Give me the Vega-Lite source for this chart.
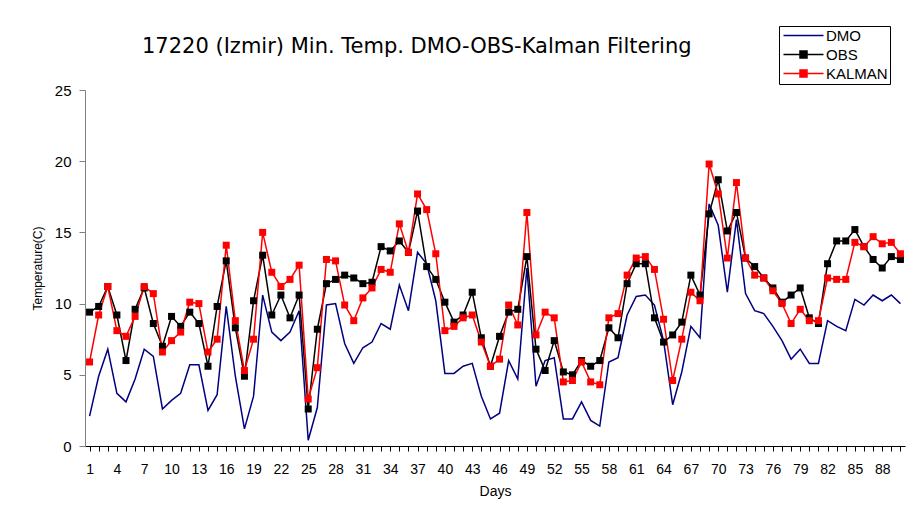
{
  "$schema": "https://vega.github.io/schema/vega-lite/v6.json",
  "width": 820,
  "height": 356,
  "autosize": {"type": "none"},
  "padding": {"left": 85, "top": 90, "right": 4, "bottom": 66},
  "background": "white",
  "title": {
    "text": "17220 (Izmir) Min. Temp. DMO-OBS-Kalman Filtering",
    "anchor": "start",
    "frame": "group",
    "dx": 57,
    "offset": -31,
    "fontSize": 21,
    "fontWeight": "normal",
    "font": "DejaVu Sans",
    "color": "black"
  },
  "config": {
    "view": {"stroke": null},
    "font": "Liberation Sans",
    "axis": {"grid": false, "labelFont": "Liberation Sans", "titleFont": "Liberation Sans", "labelColor": "black", "titleColor": "black", "titleFontWeight": "normal"}
  },
  "data": {
    "values": [
      {"day": 1, "DMO": 2.1, "OBS": 9.4, "KALMAN": 5.9},
      {"day": 2, "DMO": 4.9, "OBS": 9.8, "KALMAN": 9.2},
      {"day": 3, "DMO": 6.8, "OBS": 11.2, "KALMAN": 11.2},
      {"day": 4, "DMO": 3.7, "OBS": 9.2, "KALMAN": 8.1},
      {"day": 5, "DMO": 3.1, "OBS": 6.0, "KALMAN": 7.7},
      {"day": 6, "DMO": 4.7, "OBS": 9.6, "KALMAN": 9.1},
      {"day": 7, "DMO": 6.8, "OBS": 11.1, "KALMAN": 11.2},
      {"day": 8, "DMO": 6.3, "OBS": 8.6, "KALMAN": 10.7},
      {"day": 9, "DMO": 2.6, "OBS": 7.0, "KALMAN": 6.6},
      {"day": 10, "DMO": 3.2, "OBS": 9.1, "KALMAN": 7.4},
      {"day": 11, "DMO": 3.7, "OBS": 8.4, "KALMAN": 8.0},
      {"day": 12, "DMO": 5.7, "OBS": 9.4, "KALMAN": 10.1},
      {"day": 13, "DMO": 5.7, "OBS": 8.6, "KALMAN": 10.0},
      {"day": 14, "DMO": 2.5, "OBS": 5.6, "KALMAN": 6.6},
      {"day": 15, "DMO": 3.6, "OBS": 9.8, "KALMAN": 7.5},
      {"day": 16, "DMO": 9.8, "OBS": 13.0, "KALMAN": 14.1},
      {"day": 17, "DMO": 4.9, "OBS": 8.3, "KALMAN": 8.8},
      {"day": 18, "DMO": 1.2, "OBS": 4.9, "KALMAN": 5.3},
      {"day": 19, "DMO": 3.5, "OBS": 10.2, "KALMAN": 7.5},
      {"day": 20, "DMO": 10.6, "OBS": 13.4, "KALMAN": 15.0},
      {"day": 21, "DMO": 8.0, "OBS": 9.2, "KALMAN": 12.2},
      {"day": 22, "DMO": 7.4, "OBS": 10.6, "KALMAN": 11.2},
      {"day": 23, "DMO": 8.0, "OBS": 9.0, "KALMAN": 11.7},
      {"day": 24, "DMO": 9.5, "OBS": 10.6, "KALMAN": 12.7},
      {"day": 25, "DMO": 0.4, "OBS": 2.6, "KALMAN": 3.3},
      {"day": 26, "DMO": 2.7, "OBS": 8.2, "KALMAN": 5.5},
      {"day": 27, "DMO": 9.9, "OBS": 11.4, "KALMAN": 13.1},
      {"day": 28, "DMO": 10.0, "OBS": 11.7, "KALMAN": 13.0},
      {"day": 29, "DMO": 7.2, "OBS": 12.0, "KALMAN": 9.9},
      {"day": 30, "DMO": 5.8, "OBS": 11.8, "KALMAN": 8.8},
      {"day": 31, "DMO": 6.9, "OBS": 11.4, "KALMAN": 10.4},
      {"day": 32, "DMO": 7.3, "OBS": 11.5, "KALMAN": 11.1},
      {"day": 33, "DMO": 8.6, "OBS": 14.0, "KALMAN": 12.4},
      {"day": 34, "DMO": 8.2, "OBS": 13.7, "KALMAN": 12.2},
      {"day": 35, "DMO": 11.3, "OBS": 14.4, "KALMAN": 15.6},
      {"day": 36, "DMO": 9.5, "OBS": 13.6, "KALMAN": 13.6},
      {"day": 37, "DMO": 13.6, "OBS": 16.5, "KALMAN": 17.7},
      {"day": 38, "DMO": 12.8, "OBS": 12.6, "KALMAN": 16.6},
      {"day": 39, "DMO": 10.2, "OBS": 11.7, "KALMAN": 13.5},
      {"day": 40, "DMO": 5.1, "OBS": 10.1, "KALMAN": 8.1},
      {"day": 41, "DMO": 5.1, "OBS": 8.7, "KALMAN": 8.4},
      {"day": 42, "DMO": 5.6, "OBS": 9.2, "KALMAN": 9.0},
      {"day": 43, "DMO": 5.8, "OBS": 10.8, "KALMAN": 9.2},
      {"day": 44, "DMO": 3.5, "OBS": 7.6, "KALMAN": 7.3},
      {"day": 45, "DMO": 1.9, "OBS": 5.6, "KALMAN": 5.6},
      {"day": 46, "DMO": 2.3, "OBS": 7.7, "KALMAN": 6.1},
      {"day": 47, "DMO": 6.0, "OBS": 9.4, "KALMAN": 9.9},
      {"day": 48, "DMO": 4.7, "OBS": 9.6, "KALMAN": 8.5},
      {"day": 49, "DMO": 12.5, "OBS": 13.3, "KALMAN": 16.4},
      {"day": 50, "DMO": 4.2, "OBS": 6.8, "KALMAN": 7.8},
      {"day": 51, "DMO": 6.0, "OBS": 5.3, "KALMAN": 9.4},
      {"day": 52, "DMO": 6.2, "OBS": 7.4, "KALMAN": 9.0},
      {"day": 53, "DMO": 1.9, "OBS": 5.2, "KALMAN": 4.5},
      {"day": 54, "DMO": 1.9, "OBS": 5.0, "KALMAN": 4.6},
      {"day": 55, "DMO": 3.1, "OBS": 6.0, "KALMAN": 5.9},
      {"day": 56, "DMO": 1.8, "OBS": 5.6, "KALMAN": 4.5},
      {"day": 57, "DMO": 1.4, "OBS": 6.0, "KALMAN": 4.3},
      {"day": 58, "DMO": 5.9, "OBS": 8.3, "KALMAN": 9.0},
      {"day": 59, "DMO": 6.2, "OBS": 7.6, "KALMAN": 9.3},
      {"day": 60, "DMO": 9.2, "OBS": 11.4, "KALMAN": 12.0},
      {"day": 61, "DMO": 10.5, "OBS": 12.8, "KALMAN": 13.2},
      {"day": 62, "DMO": 10.6, "OBS": 12.8, "KALMAN": 13.3},
      {"day": 63, "DMO": 9.9, "OBS": 9.0, "KALMAN": 12.4},
      {"day": 64, "DMO": 7.4, "OBS": 7.3, "KALMAN": 8.9},
      {"day": 65, "DMO": 2.9, "OBS": 7.8, "KALMAN": 4.6},
      {"day": 66, "DMO": 5.2, "OBS": 8.7, "KALMAN": 7.5},
      {"day": 67, "DMO": 8.4, "OBS": 12.0, "KALMAN": 10.8},
      {"day": 68, "DMO": 7.6, "OBS": 10.6, "KALMAN": 10.2},
      {"day": 69, "DMO": 17.0, "OBS": 16.3, "KALMAN": 19.8},
      {"day": 70, "DMO": 15.5, "OBS": 18.7, "KALMAN": 17.7},
      {"day": 71, "DMO": 10.8, "OBS": 15.1, "KALMAN": 13.2},
      {"day": 72, "DMO": 15.9, "OBS": 16.4, "KALMAN": 18.5},
      {"day": 73, "DMO": 10.7, "OBS": 13.2, "KALMAN": 13.2},
      {"day": 74, "DMO": 9.5, "OBS": 12.6, "KALMAN": 12.0},
      {"day": 75, "DMO": 9.3, "OBS": 11.8, "KALMAN": 11.8},
      {"day": 76, "DMO": 8.4, "OBS": 11.1, "KALMAN": 10.9},
      {"day": 77, "DMO": 7.4, "OBS": 10.1, "KALMAN": 10.0},
      {"day": 78, "DMO": 6.1, "OBS": 10.6, "KALMAN": 8.6},
      {"day": 79, "DMO": 6.8, "OBS": 11.1, "KALMAN": 9.6},
      {"day": 80, "DMO": 5.8, "OBS": 9.0, "KALMAN": 8.8},
      {"day": 81, "DMO": 5.8, "OBS": 8.6, "KALMAN": 8.8},
      {"day": 82, "DMO": 8.8, "OBS": 12.8, "KALMAN": 11.8},
      {"day": 83, "DMO": 8.4, "OBS": 14.4, "KALMAN": 11.7},
      {"day": 84, "DMO": 8.1, "OBS": 14.4, "KALMAN": 11.7},
      {"day": 85, "DMO": 10.3, "OBS": 15.2, "KALMAN": 14.3},
      {"day": 86, "DMO": 9.9, "OBS": 14.0, "KALMAN": 14.0},
      {"day": 87, "DMO": 10.6, "OBS": 13.1, "KALMAN": 14.7},
      {"day": 88, "DMO": 10.2, "OBS": 12.5, "KALMAN": 14.2},
      {"day": 89, "DMO": 10.6, "OBS": 13.3, "KALMAN": 14.3},
      {"day": 90, "DMO": 10.0, "OBS": 13.1, "KALMAN": 13.5}
    ]
  },
  "transform": [{"fold": ["DMO", "OBS", "KALMAN"], "as": ["series", "temp"]}],
  "encoding": {
    "x": {
      "field": "day",
      "type": "quantitative",
      "scale": {"domain": [0.5, 90.5], "nice": false, "zero": false},
      "axis": {
        "title": "Days",
        "titleFontSize": 14,
        "titlePadding": 8,
        "values": [1,2,3,4,5,6,7,8,9,10,11,12,13,14,15,16,17,18,19,20,21,22,23,24,25,26,27,28,29,30,31,32,33,34,35,36,37,38,39,40,41,42,43,44,45,46,47,48,49,50,51,52,53,54,55,56,57,58,59,60,61,62,63,64,65,66,67,68,69,70,71,72,73,74,75,76,77,78,79,80,81,82,83,84,85,86,87,88,89,90],
        "labelExpr": "(datum.value - 1) % 3 === 0 ? datum.label : ''",
        "labelOverlap": false,
        "labelBound": false,
        "labelFlush": false,
        "labelFontSize": 14,
        "labelPadding": 11,
        "tickSize": 5,
        "domainColor": "black",
        "tickColor": "black"
      }
    },
    "y": {
      "field": "temp",
      "type": "quantitative",
      "scale": {"domain": [0, 25], "nice": false},
      "axis": {
        "title": "Temperature(C)",
        "titleFontSize": 12,
        "titlePadding": 10,
        "values": [0, 5, 10, 15, 20, 25],
        "labelFontSize": 15,
        "labelPadding": 8,
        "tickSize": 6,
        "domainColor": "#808080",
        "tickColor": "#808080"
      }
    }
  },
  "layer": [
    {
      "mark": {"type": "line", "strokeWidth": 1.5},
      "encoding": {
        "color": {
          "field": "series",
          "type": "nominal",
          "scale": {"domain": ["DMO", "OBS", "KALMAN"], "range": ["#000080", "#000000", "#ff0000"]},
          "legend": {
            "title": null,
            "orient": "none",
            "legendX": 694,
            "legendY": -64,
            "strokeColor": "black",
            "fillColor": "white",
            "padding": 2,
            "symbolSize": 100,
            "symbolOffset": 0,
            "labelOffset": 30,
            "labelFontSize": 15,
            "labelFont": "Liberation Sans",
            "labelColor": "black",
            "rowPadding": 3,
            "labelExpr": "datum.label === 'KALMAN' ? datum.label + '\u00a0\u00a0' : datum.label",
            "encode": {
              "symbols": {
                "update": {
                  "shape": {"signal": "datum.value === 'DMO' ? 'M-1,0H7' : 'M-1,0H7M2.3,-0.7H3.7V0.7H2.3Z'"},
                  "fill": {"scale": "color", "field": "value"},
                  "stroke": {"scale": "color", "field": "value"},
                  "strokeWidth": {"value": 1.5},
                  "opacity": {"value": 1}
                }
              }
            }
          }
        }
      }
    },
    {
      "transform": [{"filter": "datum.series !== 'DMO'"}],
      "mark": {"type": "point", "shape": "square", "filled": true, "size": 49, "opacity": 1},
      "encoding": {
        "color": {
          "field": "series",
          "type": "nominal",
          "scale": {"domain": ["DMO", "OBS", "KALMAN"], "range": ["#000080", "#000000", "#ff0000"]},
          "legend": null
        }
      }
    }
  ]
}
